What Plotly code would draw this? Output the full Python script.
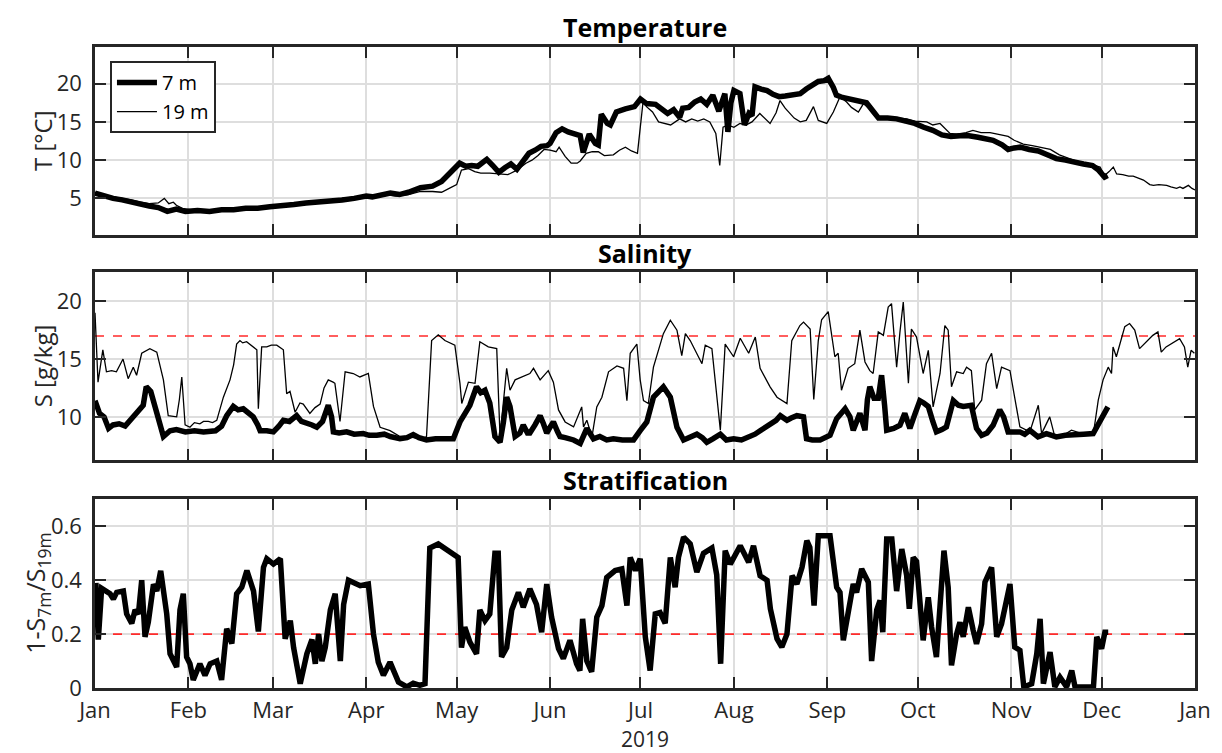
import pandas as pd
import plotly.graph_objects as go
from plotly.subplots import make_subplots

# ---------------- data (day offsets from 2019-01-01) ----------------
t7_day = [0,3,6,9,12,15,18,21,24,27,30,34,38,42,46,50,54,58,62,66,70,74,78,82,86,90,92,95,98,101,104,108,112,115,118,120,121,123,125,127,130,132,134,136,138,140,142,144,146,148,150,151,153,155,157,159,161,162,163,164,166,167,168,170,171,173,176,179,181,183,186,188,190,192,194,195,197,199,201,203,205,207,209,210,211,212,214,215.5,217,218,219,221,223,225,227,229,232,234,236,238,240,242,243.3,245,246,248,250,252,254,256,258,260,263,266,269,272,275,278,281,284,287,290,293,296,298,301,303,305,307,310,313,316,319,322,325,328,331,333,335,336]
t7_val = [5.7,5.3,5.0,4.8,4.5,4.3,4.0,3.8,3.3,3.6,3.3,3.4,3.3,3.5,3.5,3.7,3.7,3.9,4.0,4.2,4.4,4.5,4.7,4.8,5.0,5.3,5.2,5.5,5.7,5.5,5.8,6.4,6.6,7.2,8.3,9.0,9.6,9.2,9.3,9.2,10.1,9.3,8.4,9.0,9.5,8.8,10.0,10.9,11.3,11.8,11.9,12.2,13.6,14.1,13.7,13.4,13.2,11.0,12.5,13.4,12.2,12.0,16.0,14.8,14.6,16.3,16.7,17.0,18.0,17.4,17.3,16.6,16.1,16.6,15.6,16.8,16.9,17.6,18.0,17.3,18.5,16.4,18.7,13.7,17.5,19.1,18.7,14.6,16.1,15.8,19.6,19.3,19.1,18.6,18.3,18.4,18.5,18.7,19.3,19.7,20.3,20.4,20.7,19.5,18.5,18.2,18.0,17.8,17.6,17.5,16.5,15.5,15.5,15.4,15.1,14.8,14.3,13.9,13.3,13.1,13.2,13.2,13.0,12.8,12.6,12.0,11.4,11.6,11.7,11.4,11.2,10.7,10.2,10.0,9.7,9.5,9.3,8.7,7.8,8.0]

t19_day = [0,3,6,9,12,15,18,21,23,24.5,26,27,29,32,36,40,44,48,52,56,60,64,68,72,76,80,84,88,92,96,100,104,108,112,115,118,120,121.6,124,126,128,131,134,137,140,143,145,147,149,151,153,154,156,158,160,161,163,165,167,169,172,174,176,178,180,181.9,183,185,187,189,191,194,196,198,200,202,204,206,207.3,208.4,210,212,214,216,218,220.6,222,224,226,227.3,229,230.6,232,234,236,238.4,240,242.8,245,247.2,249.4,251,253.3,255,257,259,261,264,267,269.4,272,276,278,280.4,282,283.7,286,289,291.3,294,297,300,303,305,308,311,313.6,317,320,323,326,329,331.3,333.5,335,336.5,337.9,339,341,343,344.5,346,347.9,350,351.2,353,355.6,357,358.9,360,361,362.8,364,365]
t19_val = [5.8,5.4,5.2,5.0,4.8,4.5,4.3,4.4,5.0,4.3,4.5,4.1,3.7,3.5,3.4,3.5,3.6,3.7,3.8,3.9,4.0,4.3,4.4,4.6,4.7,4.9,5.1,5.2,5.3,5.5,5.3,5.5,5.9,5.9,5.8,6.4,6.8,8.7,8.9,8.5,8.3,8.3,8.2,8.1,8.7,9.6,10.0,10.6,11.4,11.3,11.1,11.7,10.5,9.6,9.6,9.9,10.9,11.1,11.1,10.6,10.7,11.3,11.7,11.2,10.9,17.8,17.0,16.3,15.0,14.8,14.6,15.4,15.0,15.4,15.1,15.4,15.0,13.5,9.3,14.3,14.6,14.3,14.8,14.6,15.0,16.1,15.6,14.8,16.2,17.8,16.8,16.1,15.5,15.0,15.2,17.0,15.2,14.8,16.3,18.3,17.6,16.9,16.3,17.4,16.7,15.7,15.4,15.5,15.5,15.4,15.1,15.0,14.6,14.8,14.2,13.5,13.4,13.6,13.9,13.6,13.6,13.3,13.1,12.6,12.1,11.9,11.7,11.4,10.7,10.3,9.8,9.6,9.3,9.1,8.0,8.5,9.1,8.2,8.1,7.9,7.9,7.7,7.4,6.8,6.7,6.8,6.7,6.5,6.3,6.5,6.3,6.7,6.3,6.1]

s7_day = [0,1.5,3,4.5,6,8,10,12.7,15,16,17,18.5,20,21.5,22.7,24.9,27,30,33,36,40,42,43.7,45.9,47.5,49.2,51,52.5,54,54.8,57,59.2,61,62.5,64.5,66.9,68.5,70.2,72,73.6,75.5,77.4,78.5,79.1,81,83.5,86,89,91,93.5,96,98,101.2,103.5,105.6,107.5,110,113,116,118.9,121.1,122.5,124.4,126.6,128,129.4,131,132.7,134.4,135.5,136.6,137.7,139.4,141,142.1,143.5,144.3,146,147.7,148.8,149.9,151,152.1,153.5,154.3,156,158.8,161,163.2,165.4,167.5,169.8,172,175,178.7,180.9,183.1,185.3,187,188.6,190.9,193.1,195.3,197.5,199.7,201.5,203,205,207.5,209.5,211.9,214.5,217.4,219,220.7,222,224,226,227.4,229.6,231,232.9,235.1,236.1,238,240.6,243.9,246.1,248.9,250.5,251.6,253.8,255.5,256.3,257.1,258.5,259.9,261,262,262.7,265,267.1,268.7,270.4,272,273.7,275,276.5,278,279.2,281,282.5,284.8,286.5,288.1,290.8,292.5,294.2,296,298,300.2,301.5,303,305,306.9,308.5,310.2,312.9,315.7,317.5,319,322,324.5,328,331.2,333.4,335,336.1]
s7_val = [11.4,10.3,10.0,9.0,9.3,9.4,9.2,10.0,10.6,11.0,12.6,12.2,10.8,9.5,8.3,8.8,8.9,8.7,8.8,8.7,8.8,9.2,10.1,10.9,10.6,10.7,10.3,10.0,9.3,8.8,8.8,8.7,9.2,9.7,9.6,10.1,9.6,9.5,9.3,9.1,9.6,11.0,10.0,8.7,8.6,8.7,8.5,8.55,8.4,8.4,8.5,8.3,8.1,8.2,8.47,8.2,8.0,8.1,8.1,8.1,9.56,10.2,11.0,12.6,12.1,12.3,11.2,8.3,7.8,9.5,11.7,10.9,8.3,8.6,9.3,8.6,8.6,9.3,10.1,9.4,8.6,9.1,9.56,8.7,8.3,8.2,8.0,7.7,9.0,8.1,8.3,8.0,8.1,8.0,8.0,8.8,9.56,11.7,12.2,12.6,11.7,9.1,8.0,8.2,8.5,8.2,7.8,8.1,8.5,8.0,8.1,8.0,8.3,8.5,8.8,9.0,9.4,9.7,10.1,9.7,9.9,10.1,10.0,8.1,8.0,8.0,8.4,9.85,10.7,10.0,8.84,10.3,8.84,11.5,12.6,11.6,11.6,13.6,11.0,8.84,9.0,9.27,10.3,9.0,10.2,11.4,11.2,10.9,9.6,8.7,8.9,9.13,11.4,11.0,10.9,11.0,9.0,8.4,8.6,9.27,10.6,10.0,8.7,8.7,8.7,8.5,8.84,8.27,8.55,8.4,8.27,8.4,8.4,8.5,8.55,9.56,10.2,10.86]

s19_day = [0,1,2.6,3.8,5.5,7.1,9.3,11,12.7,13.8,15.5,18.2,20.5,22.7,24.3,27.1,28,28.8,29.9,31.5,33,34.8,36,37.6,39,40.4,42.6,44.8,46,47,48.1,49,50.3,52.5,53.7,54.2,55.3,57,58.5,60.3,62.5,63.6,64.7,66.4,68,69.1,71.3,73,74.7,76,77.4,79,79.6,81.3,83,85.7,87.9,90.7,92.4,94.6,97.9,101.2,104,107.8,110,111.7,113.9,116.1,119.4,121.1,121.7,123.9,126.1,127.7,130.5,133.3,134.4,136.6,137.7,139.4,141.6,144.3,145.5,147.7,150.4,152.1,153.8,156,158.8,161.5,162.1,163.2,164.9,166.5,168.2,170.4,173.2,175.4,176.5,177.6,179.8,180.9,182,183.6,185.3,187,188.6,190.9,193.1,194.7,195.9,197.5,199.7,201.4,202.5,204.7,207.5,209.1,211.9,214.1,216.9,219.1,220.7,224,226.3,229.6,231.2,233.9,235.1,237.3,238.5,240,241.1,243.3,245.5,246.6,247.7,249.9,252.1,253.8,255.5,257.1,258.2,259.9,261.6,263.2,264.3,266,267.1,268.2,269.9,270.9,272.6,274.8,276.5,278.1,280.4,282,283.1,284.2,285.9,288.1,289.2,290.8,291.9,294.2,295.8,297.5,299.2,300.8,303.6,305.8,306.9,310.2,313,314.1,316.8,318.5,321.3,324,328,331.2,332.9,334.5,336.2,337.3,337.8,338.9,341.7,343.3,345,346.6,348.8,351,352.7,353.8,355.4,359.9,361.5,362.6,363.7,364.8]
s19_val = [19.0,13.0,15.8,13.9,14.0,13.9,15.0,13.3,14.3,13.6,15.5,15.9,15.6,13.2,10.1,10.0,11.5,13.45,9.3,9.1,9.5,9.4,9.6,9.6,9.5,9.7,11.7,13.2,14.5,16.3,16.6,16.4,16.5,16.05,15.8,10.7,16.05,16.05,16.2,16.2,15.8,12.0,12.2,10.4,11.2,11.1,10.3,10.8,11.1,12.5,13.2,13.0,12.9,9.6,13.9,13.75,13.45,13.75,10.9,9.1,8.8,8.3,8.3,8.1,8.27,16.6,17.1,16.6,16.2,12.9,11.15,13.0,12.9,16.5,16.05,15.9,8.27,14.2,12.3,13.2,13.45,13.75,14.2,13.2,14.0,13.0,10.6,9.56,9.13,10.86,9.13,9.7,8.27,10.86,11.7,13.9,14.4,14.2,11.4,15.5,16.3,13.2,11.4,11.15,14.3,15.76,17.2,18.36,17.5,15.3,17.2,16.6,15.5,14.6,16.2,15.9,8.84,16.3,15.2,16.8,15.5,16.9,14.2,12.6,11.7,11.15,16.6,17.9,18.2,17.6,11.5,16.6,18.4,19.1,15.2,15.5,12.3,14.2,14.6,17.5,14.75,14.0,13.75,17.35,17.05,19.5,19.8,14.3,17.35,19.94,12.9,17.6,16.9,13.75,15.76,10.86,13.75,17.9,17.5,12.6,13.9,13.75,14.3,14.0,10.6,11.44,14.6,15.5,12.45,14.3,14.0,10.86,9.13,8.7,11.0,8.55,10.0,8.27,8.4,8.84,8.5,8.4,11.44,13.2,14.3,13.75,16.05,15.2,17.8,18.07,17.5,15.9,16.5,17.05,17.35,15.6,16.05,16.77,16.05,14.3,15.76,15.5]

n_day = [0.3,1.1,2.2,5,6.1,7.2,9.4,10.5,12.2,13.3,14.4,15.5,16.6,17.7,19.4,20.5,21.8,23.8,24.9,27.1,28.2,29.3,30.4,31.5,32.6,34.8,36.5,38.2,40.4,42,43.7,45.4,47,48.7,50.4,52.6,54.2,55.9,57,59.2,61.5,63.1,64.8,65.9,68.1,70.3,72,73.1,74.2,75.3,76.4,78.1,79.7,81.4,82.5,84.1,88,90.7,92.4,94,95.7,97.9,100.7,103.5,105.6,107.8,109.5,111.1,113.9,118.9,120.5,121.6,122.7,124.4,126.6,127.7,129.4,131,132.7,133.8,134.9,136.6,138.3,140.5,142.1,144.3,146.5,148.2,149.9,151.5,153.8,155.4,157.6,159.8,160.9,161.8,163.2,164.8,166.5,168.2,169.8,172.6,174.8,176.5,177.6,179.3,180.9,182.6,184.2,185.9,187.5,189.2,190.9,192.5,193.6,195.3,197.5,199.7,201.9,204.7,206.3,207.6,209.1,210.8,214.1,216.9,218.5,220.7,223,224.1,226.3,227.9,229.6,231.3,232.9,234.6,236.2,237.2,238.6,240,242.2,243.9,246.1,247.2,248.3,250,251.6,252.7,254.4,256.6,257.7,259.4,260.5,261.4,262.7,264.4,266,267.7,269.3,270.2,271.5,272.6,274.8,276.5,277.6,279.2,280.4,281.7,283.1,284.2,285.9,287,288.1,289.8,291.4,292.5,294.2,295.3,297.5,299.2,300.8,303.6,305.2,306.9,308.2,310.8,312.5,313.6,314.7,316.9,318.5,320.2,322.4,324.1,325.2,329.1,331.3,332.4,334,335.1,336.2]
n_val = [0.39,0.18,0.37,0.35,0.33,0.355,0.36,0.275,0.24,0.29,0.275,0.40,0.19,0.245,0.385,0.36,0.435,0.275,0.127,0.078,0.29,0.35,0.115,0.09,0.03,0.09,0.047,0.09,0.10,0.03,0.22,0.165,0.35,0.374,0.436,0.36,0.21,0.448,0.48,0.46,0.48,0.183,0.25,0.15,0.016,0.127,0.18,0.09,0.20,0.10,0.15,0.29,0.35,0.10,0.31,0.40,0.38,0.386,0.20,0.096,0.047,0.096,0.022,0.004,0.018,0.01,0.016,0.52,0.535,0.50,0.485,0.15,0.226,0.17,0.127,0.29,0.25,0.275,0.50,0.50,0.115,0.15,0.29,0.355,0.30,0.368,0.31,0.207,0.386,0.263,0.146,0.109,0.177,0.09,0.065,0.257,0.10,0.06,0.263,0.306,0.41,0.436,0.442,0.306,0.485,0.436,0.48,0.19,0.065,0.275,0.28,0.24,0.485,0.374,0.485,0.56,0.535,0.43,0.50,0.52,0.42,0.09,0.51,0.46,0.528,0.467,0.528,0.417,0.40,0.294,0.183,0.152,0.20,0.417,0.386,0.448,0.547,0.522,0.306,0.565,0.565,0.565,0.374,0.355,0.177,0.30,0.386,0.355,0.442,0.393,0.10,0.29,0.325,0.207,0.553,0.553,0.36,0.516,0.42,0.294,0.485,0.47,0.177,0.337,0.226,0.115,0.325,0.51,0.374,0.084,0.20,0.244,0.19,0.30,0.214,0.164,0.238,0.393,0.448,0.19,0.238,0.386,0.152,0.14,0.004,0.016,0.127,0.257,0.016,0.133,0.004,0.04,0.004,0.065,0.004,0.004,0.004,0.19,0.146,0.207,0.207]

s_threshold = 17
n_threshold = 0.2

month_ticks = ["2019-01-01","2019-02-01","2019-03-01","2019-04-01","2019-05-01","2019-06-01",
               "2019-07-01","2019-08-01","2019-09-01","2019-10-01","2019-11-01","2019-12-01","2020-01-01"]
month_labels = ["Jan","Feb","Mar","Apr","May","Jun","Jul","Aug","Sep","Oct","Nov","Dec","Jan"]

# ---------------- figure ----------------
base = pd.Timestamp("2019-01-01")
def to_dates(days):
    return base + pd.to_timedelta(days, unit="D")

FONT = "Open Sans"
AX = "#262626"
GRID = "#dedede"
RED = "#ff2a2a"

fig = make_subplots(rows=3, cols=1, shared_xaxes=True)

x_full = [month_ticks[0], month_ticks[-1]]

# threshold lines (drawn first, under data)
fig.add_trace(go.Scatter(x=x_full, y=[s_threshold, s_threshold], mode="lines",
                         line=dict(color=RED, width=1.6, dash="dash"), showlegend=False,
                         hoverinfo="skip"), row=2, col=1)
fig.add_trace(go.Scatter(x=x_full, y=[n_threshold, n_threshold], mode="lines",
                         line=dict(color=RED, width=1.6, dash="dash"), showlegend=False,
                         hoverinfo="skip"), row=3, col=1)

thick = dict(color="black", width=5.5)
thin = dict(color="black", width=1.3)

fig.add_trace(go.Scatter(x=to_dates(t7_day), y=t7_val, mode="lines", name="7 m", line=thick), row=1, col=1)
fig.add_trace(go.Scatter(x=to_dates(t19_day), y=t19_val, mode="lines", name="19 m", line=thin), row=1, col=1)
fig.add_trace(go.Scatter(x=to_dates(s7_day), y=s7_val, mode="lines", line=thick, showlegend=False), row=2, col=1)
fig.add_trace(go.Scatter(x=to_dates(s19_day), y=s19_val, mode="lines", line=thin, showlegend=False), row=2, col=1)
fig.add_trace(go.Scatter(x=to_dates(n_day), y=n_val, mode="lines", line=thick, showlegend=False), row=3, col=1)

TICKSIZE = 22
axis_common = dict(showline=True, linecolor=AX, linewidth=2.5, mirror="allticks",
                   ticks="inside", ticklen=11, tickwidth=2, tickcolor=AX,
                   showgrid=True, gridcolor=GRID, gridwidth=1.5, zeroline=False,
                   tickfont=dict(family=FONT, size=TICKSIZE, color=AX))

for i in (1, 2, 3):
    fig.update_xaxes(range=[month_ticks[0], month_ticks[-1]], tickvals=month_ticks,
                     ticktext=month_labels, showticklabels=(i == 3), ticklabelstandoff=1,
                     **axis_common, row=i, col=1)

fig.update_yaxes(range=[0.2, 24.8], tickvals=[5, 10, 15, 20], ticklabelstandoff=6, **axis_common, row=1, col=1)
fig.update_yaxes(range=[6.25, 22.5], tickvals=[10, 15, 20], ticklabelstandoff=6, **axis_common, row=2, col=1)
fig.update_yaxes(range=[0, 0.7], tickvals=[0, 0.2, 0.4, 0.6], ticktext=["0", "0.2", "0.4", "0.6"],
                 ticklabelstandoff=6, **axis_common, row=3, col=1)

fig.update_layout(
    yaxis=dict(domain=[0.7066, 1.0]),
    yaxis2=dict(domain=[0.3554, 0.6484]),
    yaxis3=dict(domain=[0.0, 0.2941]),
)

W, H = 1222, 753
ML, MR, MT, MB = 95, 27, 47, 65
fig.update_layout(
    width=W, height=H,
    margin=dict(l=ML, r=MR, t=MT, b=MB, autoexpand=False),
    paper_bgcolor="white", plot_bgcolor="white",
    font=dict(family=FONT, size=TICKSIZE, color=AX),
    showlegend=True,
    legend=dict(x=0.0136, y=0.978, xanchor="left", yanchor="top",
                bgcolor="white", bordercolor=AX, borderwidth=2,
                font=dict(family=FONT, size=20, color="black"),
                tracegroupgap=0, itemwidth=40),
)

ph = H - MT - MB
def py(pix):
    return (H - MB - pix) / ph

for txt, ypix in (("Temperature", 27), ("Salinity", 253), ("Stratification", 480)):
    fig.add_annotation(text="<b>%s</b>" % txt, x=0.5, y=py(ypix), xref="paper", yref="paper",
                       xanchor="center", yanchor="middle", showarrow=False,
                       font=dict(family=FONT, size=25, color="black"))

ytitles = [("T [°C]", "y domain", 42, 24), ("S [g/kg]", "y2 domain", 42, 24),
           ("1-S<sub>7m</sub>/S<sub>19m</sub>", "y3 domain", 37, 25)]
for txt, yref, xpix, fs in ytitles:
    fig.add_annotation(text=txt, x=(xpix - ML) / (W - ML - MR), y=0.5, xref="paper", yref=yref,
                       xanchor="center", yanchor="middle", textangle=-90, showarrow=False,
                       font=dict(family=FONT, size=fs, color=AX))

fig.add_annotation(text="2019", x=0.5, y=py(739), xref="paper", yref="paper",
                   xanchor="center", yanchor="middle", showarrow=False,
                   font=dict(family=FONT, size=21, color=AX))

fig.write_html("out.html")
